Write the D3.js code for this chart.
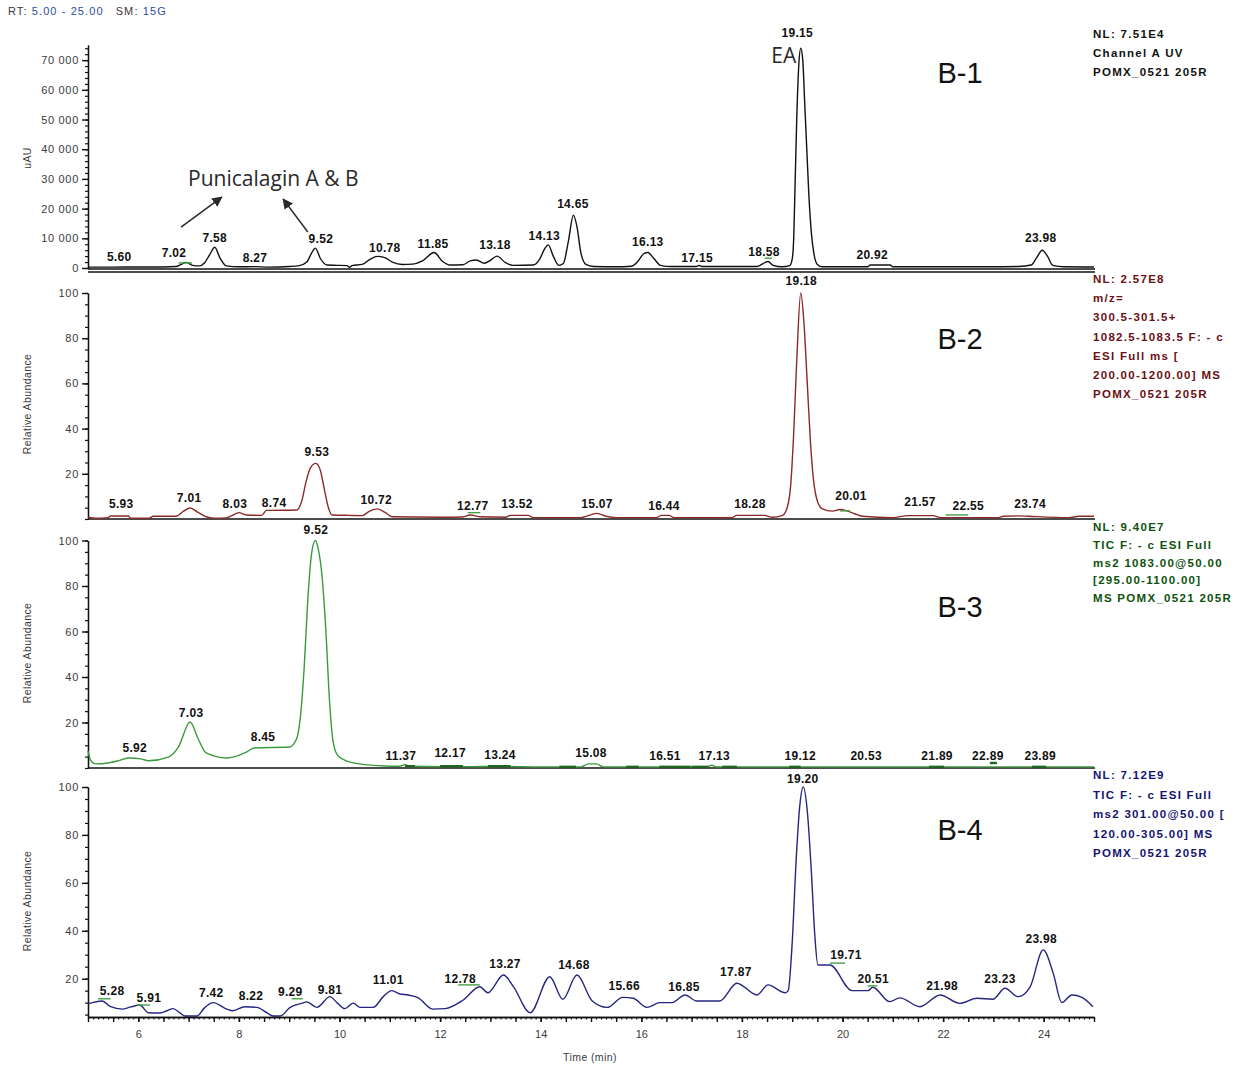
<!DOCTYPE html>
<html>
<head>
<meta charset="utf-8">
<script src="https://cdn.jsdelivr.net/npm/d3@7"></script>
<style>
body { margin: 0; background: #fff; }
svg { display: block; }
.tick text { font-family: "Liberation Sans", Arial, sans-serif; fill: #3a3a3a; }
</style>
</head>
<body>
<div id="chart"></div>
<script>
/*
 *  DATA
 */
var timeTicks = [6, 8, 10, 12, 14, 16, 18, 20, 22, 24];
var uvTicks = [0, 10000, 20000, 30000, 40000, 50000, 60000, 70000];
var relTicks = [20, 40, 60, 80, 100];

// [time (min), signal]
var traceB1 = [[5.0,300],[5.5,300],[6.0,350],[6.5,350],[6.75,500],[6.85,1200],[6.95,1900],[7.08,900],[7.2,700],[7.32,1800],[7.42,4500],[7.52,7000],[7.62,3500],[7.75,700],[8.0,400],[8.3,450],[8.6,300],[9.0,500],[9.2,800],[9.35,2000],[9.45,5200],[9.52,6700],[9.62,3200],[9.75,1000],[9.95,900],[10.15,800],[10.2,200],[10.25,800],[10.45,1200],[10.6,2800],[10.75,3900],[10.9,3500],[11.05,2000],[11.25,1200],[11.45,1300],[11.65,2400],[11.88,5200],[12.05,2200],[12.2,1000],[12.45,1100],[12.6,2400],[12.72,2700],[12.88,1600],[13.0,2600],[13.13,4000],[13.3,1800],[13.45,900],[13.85,1000],[13.98,3000],[14.08,6500],[14.15,7800],[14.25,4000],[14.36,900],[14.45,1500],[14.55,9000],[14.65,17800],[14.72,14000],[14.8,5000],[14.9,1200],[15.05,500],[15.5,400],[15.8,600],[15.93,2200],[16.05,4800],[16.13,5200],[16.25,3200],[16.38,900],[16.6,500],[17.1,500],[17.15,900],[17.2,500],[18.3,500],[18.42,1500],[18.52,2200],[18.62,900],[18.8,400],[18.95,800],[19.0,3000],[19.03,10000],[19.06,30000],[19.09,50000],[19.13,68000],[19.17,74000],[19.21,70000],[19.25,55000],[19.29,40000],[19.33,25000],[19.38,12000],[19.43,5000],[19.5,1200],[19.6,400],[20.5,400],[20.55,1000],[20.95,1000],[21.0,400],[22.9,400],[23.5,500],[23.75,1000],[23.86,3500],[23.97,6000],[24.08,3800],[24.18,900],[24.4,400],[25.0,350]];

var traceB2 = [[5.0,0.8],[5.15,0.3],[5.4,0.6],[5.45,1.3],[5.8,1.3],[5.85,0.3],[6.2,0.3],[6.3,1.2],[6.75,1.2],[6.9,3.5],[7.03,4.9],[7.18,3.0],[7.35,1.0],[7.5,0.4],[7.75,0.5],[7.85,1.4],[8.0,2.8],[8.15,1.8],[8.45,1.6],[8.55,3.8],[9.15,4.0],[9.25,8],[9.33,16],[9.42,22.5],[9.53,24.6],[9.62,21.5],[9.7,13],[9.78,5],[9.85,1.8],[10.2,1.6],[10.45,1.5],[10.6,3.5],[10.75,4.5],[10.9,3.0],[11.05,1.0],[12.0,0.8],[12.45,0.9],[12.6,1.8],[12.8,1.0],[13.3,0.8],[13.4,1.6],[13.75,1.6],[13.85,0.6],[14.8,0.6],[14.95,1.5],[15.12,2.5],[15.3,1.2],[15.5,0.6],[16.3,0.6],[16.4,1.6],[16.55,1.6],[16.65,0.6],[17.8,0.6],[17.9,1.6],[18.45,1.6],[18.6,0.8],[18.8,1.5],[18.9,5],[18.97,15],[19.03,38],[19.09,70],[19.17,100],[19.23,88],[19.3,60],[19.36,35],[19.42,18],[19.5,8],[19.6,4.5],[19.8,3.5],[19.95,4.2],[20.1,3.5],[20.25,2.2],[20.4,1.2],[21.0,0.6],[21.3,1.5],[21.8,1.5],[21.95,0.6],[23.1,0.6],[23.2,1.2],[23.5,1.4],[23.7,1.2],[24.5,0.6],[24.7,1.2],[25.0,1.2]];

var traceB3 = [[5.0,7.5],[5.05,3.5],[5.15,1.8],[5.4,2.2],[5.6,3.2],[5.8,4.4],[6.05,4.0],[6.2,3.2],[6.6,4.8],[6.8,9.3],[7.03,20.2],[7.2,12.3],[7.35,6.6],[7.75,4.4],[8.15,7],[8.3,8.8],[9.0,9.2],[9.15,13],[9.22,22],[9.3,45],[9.37,74],[9.45,95],[9.52,100],[9.58,96],[9.65,85],[9.73,60],[9.8,30],[9.87,12],[9.95,6],[10.1,3.5],[10.4,1.8],[10.9,0.9],[11.2,0.8],[11.3,1.5],[11.4,0.8],[12.0,0.6],[12.2,1.0],[12.5,0.6],[13.2,0.7],[14.0,0.5],[14.8,0.5],[14.95,1.8],[15.1,1.8],[15.25,0.5],[17.3,0.5],[17.4,1.2],[17.5,0.5],[25.0,0.5]];

var traceB4 = [[5.0,9.5],[5.28,10.7],[5.45,8.3],[5.68,7.3],[5.85,8.2],[6.03,9.0],[6.2,5.8],[6.43,5.7],[6.57,6.6],[6.69,7.5],[6.83,5.7],[6.93,4.4],[7.17,4.4],[7.31,7.7],[7.49,10.0],[7.76,7.3],[7.88,6.6],[8.12,8.3],[8.36,8.0],[8.56,5.7],[8.68,4.4],[8.82,4.4],[9.02,8.0],[9.25,9.7],[9.35,10.3],[9.55,8.0],[9.81,12.5],[9.95,10],[10.11,7.5],[10.27,9.8],[10.41,8.0],[10.67,8.0],[10.87,12.5],[11.04,15.0],[11.2,13.6],[11.36,13.2],[11.56,12.1],[11.85,7.3],[12.1,7.5],[12.46,11.1],[12.79,16.6],[12.95,14.1],[13.26,21.5],[13.46,16.6],[13.79,5.8],[14.18,20.8],[14.44,11.4],[14.72,21.5],[15.02,10.8],[15.32,8.0],[15.63,12.2],[15.84,11.8],[16.11,8.0],[16.37,10],[16.61,10],[16.87,13.2],[17.1,10.7],[17.56,10.7],[17.9,18.1],[18.3,13.2],[18.52,17.4],[18.86,14.1],[18.92,15],[19.0,35],[19.08,70],[19.15,92],[19.22,100],[19.3,90],[19.38,65],[19.45,38],[19.51,25.7],[19.75,25.7],[20.19,15],[20.51,15],[20.6,16.4],[20.94,10.4],[21.14,12],[21.54,8.3],[21.94,13.2],[22.33,9.7],[22.67,11.8],[22.99,11.4],[23.23,16.0],[23.49,12.5],[23.73,16.6],[23.99,32],[24.19,22.2],[24.36,10],[24.56,13.2],[24.76,12.2],[24.98,8.3]];

// peak labels: [text, time, signal]
var peaksB1 = [["5.60",5.62,2400],["7.02",6.71,3700],["7.58",7.52,8750],["8.27",8.32,2000],["9.52",9.63,8400],["10.78",10.9,5400],["11.85",11.86,6700],["13.18",13.09,6400],["14.13",14.07,9400],["14.65",14.64,20200],["16.13",16.13,7400],["17.15",17.11,2000],["18.58",18.44,4000],["19.15",19.1,77700],["20.92",20.59,3000],["23.98",23.94,8750]];
var peaksB2 = [["5.93",5.66,4.9],["7.01",7.01,7.5],["8.03",7.92,4.9],["8.74",8.7,5.3],["9.53",9.55,27.8],["10.72",10.73,6.6],["12.77",12.65,4],["13.52",13.53,4.9],["15.07",15.12,4.9],["16.44",16.45,4],["18.28",18.16,4.9],["19.18",19.18,103.4],["20.01",20.17,8.4],["21.57",21.54,5.7],["22.55",22.5,4],["23.74",23.73,4.9]];
var peaksB3 = [["5.92",5.93,7],["7.03",7.05,22.4],["8.45",8.48,11.9],["9.52",9.53,102.9],["11.37",11.22,3.5],["12.17",12.2,4.8],["13.24",13.19,4],["15.08",15.0,4.8],["16.51",16.47,3.5],["17.13",17.45,3.5],["19.12",19.16,3.5],["20.53",20.47,3.5],["21.89",21.88,3.5],["22.89",22.89,3.5],["23.89",23.93,3.5]];
var peaksB4 = [["5.28",5.48,13.2],["5.91",6.21,10.3],["7.42",7.45,12.3],["8.22",8.24,11.1],["9.29",9.02,12.9],["9.81",9.81,13.6],["11.01",10.97,17.8],["12.78",12.4,18.3],["13.27",13.29,24.3],["14.68",14.66,23.9],["15.66",15.66,15.3],["16.85",16.85,15],["17.87",17.88,21.2],["19.20",19.21,101.7],["19.71",20.07,28.1],["20.51",20.61,18.1],["21.98",21.98,15.3],["23.23",23.13,18.1],["23.98",23.95,34.8]];

// integration marks: [start time, end time, signal]
var marksB1 = [[6.8,7.07,1700],[18.45,18.6,3300]];
var marksB2 = [[12.55,12.8,2.8],[19.95,20.15,3.6],[22.05,22.5,1.8]];
var marksB3 = [[11.3,11.5,0.8],[12.0,12.45,0.8],[12.95,13.4,0.8],[14.37,14.7,0.5],[15.7,15.95,0.5],[16.36,16.98,0.5],[17.0,17.33,0.5],[17.61,17.9,0.5],[18.94,19.17,0.5],[21.72,22.02,0.5],[22.93,23.07,2.2],[23.77,24.05,0.5]];
var marksB4 = [[5.2,5.45,11.6],[5.97,6.23,9.0],[9.05,9.27,11.6],[12.36,12.79,17.4],[19.75,20.05,26.5],[20.5,20.69,17]];

var infoB1 = ["NL: 7.51E4", "Channel A UV", "POMX_0521 205R"];
var infoB2 = ["NL: 2.57E8", "m/z=", "300.5-301.5+", "1082.5-1083.5 F: - c", "ESI Full ms [", "200.00-1200.00] MS", "POMX_0521 205R"];
var infoB3 = ["NL: 9.40E7", "TIC F: - c ESI Full", "ms2 1083.00@50.00", "[295.00-1100.00]", "MS POMX_0521 205R"];
var infoB4 = ["NL: 7.12E9", "TIC F: - c ESI Full", "ms2 301.00@50.00 [", "120.00-305.00] MS", "POMX_0521 205R"];

/*
 *  LAYOUT
 */
var W = 1252, H = 1068;
var svg = d3.select('#chart').append('svg').attr('width', W).attr('height', H);

var x_scale = d3.scaleLinear().domain([5, 25]).range([88, 1094]);

var panels = [
    {name: "B-1", trace: traceB1, peaks: peaksB1, marks: marksB1, info: infoB1,
     domain: [0, 75100], range: [268, 45], ticks: uvTicks, minorStep: 2000,
     line: "#111", textColor: "#111", title: "uAU", titleY: 158,
     infoY: 38, infoStep: 19, nameY: 83},
    {name: "B-2", trace: traceB2, peaks: peaksB2, marks: marksB2, info: infoB2,
     domain: [0, 100], range: [519, 293], ticks: relTicks, minorStep: 5,
     line: "#8c2a2a", textColor: "#6a0f14", title: "Relative Abundance", titleY: 404,
     infoY: 283, infoStep: 19.2, nameY: 349},
    {name: "B-3", trace: traceB3, peaks: peaksB3, marks: marksB3, info: infoB3,
     domain: [0, 100], range: [768, 540.5], ticks: relTicks, minorStep: 5,
     line: "#3b9a3b", textColor: "#0d520d", title: "Relative Abundance", titleY: 653,
     infoY: 531, infoStep: 17.8, nameY: 617},
    {name: "B-4", trace: traceB4, peaks: peaksB4, marks: marksB4, info: infoB4,
     domain: [4, 100], range: [1017, 787], ticks: relTicks, minorStep: 5,
     line: "#262680", textColor: "#141470", title: "Relative Abundance", titleY: 901,
     infoY: 779, infoStep: 19.6, nameY: 840}
];

var fmtUV = d3.formatLocale({decimal: ".", thousands: " ", grouping: [3], currency: ["", ""]}).format(",");

// header
var hdr = svg.append('text')
    .attr('x', 8).attr('y', 15)
    .style('font-family', '"Liberation Sans", Arial, sans-serif')
    .style('font-size', '11px')
    .style('letter-spacing', '1.1px')
    .attr('fill', '#3a3a3a');
hdr.append('tspan').text('RT: ');
hdr.append('tspan').attr('fill', '#2b4f9e').text('5.00 - 25.00');
hdr.append('tspan').attr('dx', 12).text('SM: ');
hdr.append('tspan').attr('fill', '#2b4f9e').text('15G');

panels.forEach(function(p, i) {
    var y_scale = d3.scaleLinear().domain(p.domain).range(p.range);
    var g = svg.append('g').attr('class', 'panel');

    // minor y ticks
    var minor = d3.range(p.domain[0] <= 0 ? 0 : p.minorStep, p.domain[1] + 0.001, p.minorStep)
        .filter(function(v) { return v >= p.domain[0]; });
    g.append('g')
        .attr('transform', 'translate(88,0)')
        .call(d3.axisLeft(y_scale).tickValues(minor).tickSize(3).tickFormat('').tickSizeOuter(0))
        .call(function(a) { a.selectAll('line, path').attr('stroke', '#111').attr('stroke-width', 1.2); });

    // major y ticks
    g.append('g')
        .attr('transform', 'translate(88,0)')
        .call(d3.axisLeft(y_scale).tickValues(p.ticks).tickSize(6).tickPadding(3).tickSizeOuter(0)
            .tickFormat(i == 0 ? fmtUV : d3.format('d')))
        .call(function(a) {
            a.selectAll('line, path').attr('stroke', '#111').attr('stroke-width', 1.4);
            a.selectAll('text').style('font-size', '11px').style('letter-spacing', '0.7px');
        });

    // y title
    g.append('text')
        .attr('transform', 'translate(31,' + p.titleY + ')rotate(-90)')
        .attr('text-anchor', 'middle')
        .style('font-family', '"Liberation Sans", Arial, sans-serif')
        .style('font-size', '10.5px')
        .style('letter-spacing', '0.4px')
        .attr('fill', '#3a3a3a')
        .text(p.title);

    // baseline
    if (i == 0) {
        [269, 272].forEach(function(yy) {
            g.append('line').attr('x1', 88).attr('x2', 1095).attr('y1', yy).attr('y2', yy)
                .attr('stroke', '#111').attr('stroke-width', 1.3);
        });
    } else if (i < 3) {
        g.append('line').attr('x1', 88).attr('x2', 1095)
            .attr('y1', p.range[0]).attr('y2', p.range[0])
            .attr('stroke', '#111').attr('stroke-width', 1.3);
    }

    // trace
    var valueline = d3.line()
        .x(function(d) { return x_scale(d[0]); })
        .y(function(d) { return y_scale(d[1]); })
        .curve(d3.curveMonotoneX);
    g.append('path')
        .datum(p.trace)
        .attr('fill', 'none')
        .attr('stroke', p.line)
        .attr('stroke-width', 1.4)
        .attr('d', valueline);

    // integration marks
    g.selectAll('.mark').data(p.marks).enter().append('line')
        .attr('x1', function(d) { return x_scale(d[0]); })
        .attr('x2', function(d) { return x_scale(d[1]); })
        .attr('y1', function(d) { return y_scale(d[2]); })
        .attr('y2', function(d) { return y_scale(d[2]); })
        .attr('stroke', i == 2 ? '#1d641d' : '#43a043')
        .attr('stroke-width', i == 2 ? 2.4 : 1.4);

    // peak labels
    g.selectAll('.peak').data(p.peaks).enter().append('text')
        .attr('x', function(d) { return x_scale(d[1]); })
        .attr('y', function(d) { return y_scale(d[2]); })
        .attr('text-anchor', 'middle')
        .style('font-family', '"Liberation Sans", Arial, sans-serif')
        .style('font-weight', 'bold')
        .style('font-size', '12px')
        .style('letter-spacing', '0.3px')
        .attr('fill', '#111')
        .text(function(d) { return d[0]; });

    // info block
    g.selectAll('.info').data(p.info).enter().append('text')
        .attr('x', 1093)
        .attr('y', function(d, k) { return p.infoY + k * p.infoStep; })
        .style('font-family', '"Liberation Sans", Arial, sans-serif')
        .style('font-weight', 'bold')
        .style('font-size', '11.5px')
        .style('letter-spacing', '1.3px')
        .attr('fill', p.textColor)
        .text(function(d) { return d; });

    // panel name
    g.append('text')
        .attr('x', 960).attr('y', p.nameY)
        .attr('text-anchor', 'middle')
        .style('font-family', '"Liberation Sans", Arial, sans-serif')
        .style('font-size', '29px')
        .attr('fill', '#111')
        .text(p.name);

    p.y_scale = y_scale;
});

// x axis on the bottom panel
var xg = svg.append('g').attr('transform', 'translate(0,1017)');
xg.call(d3.axisBottom(x_scale).tickValues(d3.range(5, 25.001, 0.1)).tickSize(2.5).tickFormat('').tickSizeOuter(0))
    .call(function(a) { a.selectAll('line, path').attr('stroke', '#111').attr('stroke-width', 1.1); });
xg.append('g')
    .call(d3.axisBottom(x_scale).tickValues(d3.range(5, 25.001, 0.5)).tickSize(5).tickFormat('').tickSizeOuter(0))
    .call(function(a) { a.selectAll('line, path').attr('stroke', '#111').attr('stroke-width', 1.4); });
xg.append('g')
    .call(d3.axisBottom(x_scale).tickValues(timeTicks).tickSize(5).tickPadding(8).tickSizeOuter(0))
    .call(function(a) {
        a.selectAll('line, path').attr('stroke', '#111').attr('stroke-width', 1.4);
        a.selectAll('text').style('font-size', '11px');
    });
svg.append('text')
    .attr('x', 590).attr('y', 1061)
    .attr('text-anchor', 'middle')
    .style('font-family', '"Liberation Sans", Arial, sans-serif')
    .style('font-size', '10.5px')
    .style('letter-spacing', '0.4px')
    .attr('fill', '#3a3a3a')
    .text('Time (min)');

// annotations on B-1
var yB1 = panels[0].y_scale;
svg.append('defs').append('marker')
    .attr('id', 'arrow').attr('viewBox', '0 0 10 10')
    .attr('refX', 9).attr('refY', 5)
    .attr('markerWidth', 7).attr('markerHeight', 7)
    .attr('orient', 'auto')
    .append('path').attr('d', 'M0,0L10,5L0,10z').attr('fill', '#2a2a2a');

var arrows = [[6.85, 13800, 7.66, 23900], [9.37, 12100, 8.88, 23200]];
svg.selectAll('.arrow').data(arrows).enter().append('line')
    .attr('x1', function(d) { return x_scale(d[0]); })
    .attr('y1', function(d) { return yB1(d[1]); })
    .attr('x2', function(d) { return x_scale(d[2]); })
    .attr('y2', function(d) { return yB1(d[3]); })
    .attr('stroke', '#2a2a2a')
    .attr('stroke-width', 1.5)
    .attr('marker-end', 'url(#arrow)');

svg.append('text')
    .attr('x', x_scale(6.99)).attr('y', yB1(27600))
    .style('font-family', '"Open Sans", "Noto Sans", sans-serif')
    .style('font-size', '21px')
    .attr('fill', '#2a2a2a')
    .text('Punicalagin A & B');

svg.append('text')
    .attr('x', x_scale(19.08)).attr('y', yB1(69000))
    .attr('text-anchor', 'end')
    .style('font-family', '"Open Sans", "Noto Sans", sans-serif')
    .style('font-size', '21px')
    .attr('fill', '#2a2a2a')
    .text('EA');
</script>
</body>
</html>
